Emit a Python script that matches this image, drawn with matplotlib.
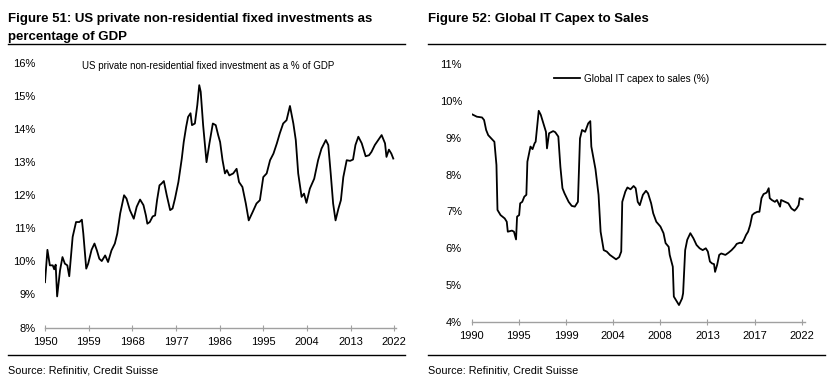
import matplotlib
matplotlib.use("Agg")
import matplotlib.pyplot as plt
from matplotlib.lines import Line2D

# --- data ---
us_years = [1950.0, 1950.5, 1951.0, 1951.6, 1951.9, 1952.2, 1952.5, 1953.1, 1953.6, 1954.1,
            1954.6, 1955.0, 1955.7, 1956.4, 1957.1, 1957.6, 1957.9, 1958.5, 1958.9, 1959.6,
            1960.2, 1960.7, 1961.2, 1961.7, 1962.4, 1963.0, 1963.7, 1964.4, 1964.9, 1965.5,
            1966.3, 1966.8, 1967.5, 1968.3, 1968.9, 1969.6, 1970.3, 1970.8, 1971.1, 1971.6,
            1972.2, 1972.7, 1973.1, 1973.6, 1974.0, 1974.5, 1975.1, 1975.8, 1976.3, 1976.8,
            1977.5, 1978.2, 1978.6, 1979.1, 1979.5, 1980.0, 1980.3, 1980.9, 1981.4, 1981.8,
            1982.1, 1982.6, 1983.3, 1983.9, 1984.6, 1985.2, 1985.7, 1986.1, 1986.6, 1987.1,
            1987.5, 1988.0, 1988.8, 1989.5, 1990.0, 1990.7, 1991.4, 1992.0, 1992.8, 1993.6,
            1994.3, 1995.0, 1995.7, 1996.4, 1997.1, 1997.8, 1998.4, 1999.1, 1999.8, 2000.5,
            2001.2, 2001.7, 2002.2, 2002.9, 2003.4, 2003.9, 2004.6, 2005.5, 2006.3, 2007.0,
            2007.9, 2008.4, 2008.9, 2009.4, 2009.9, 2010.5, 2011.0, 2011.5, 2012.2, 2012.9,
            2013.5, 2014.0, 2014.6, 2015.3, 2016.1, 2016.8, 2017.3, 2018.0, 2018.7, 2019.4,
            2020.1, 2020.4, 2020.9, 2021.4, 2021.8]
us_invest = [9.37, 10.35, 9.88, 9.88, 9.76, 9.90, 8.94, 9.73, 10.13, 9.93,
             9.88, 9.55, 10.74, 11.19, 11.19, 11.26, 10.84, 9.78, 9.93, 10.35,
             10.54, 10.33, 10.08, 10.01, 10.18, 9.98, 10.33, 10.54, 10.84, 11.45,
             12.00, 11.90, 11.55, 11.29, 11.65, 11.87, 11.70, 11.39, 11.14, 11.19,
             11.36, 11.39, 11.85, 12.30, 12.35, 12.43, 12.00, 11.55, 11.60, 11.90,
             12.40, 13.11, 13.61, 14.07, 14.37, 14.48, 14.12, 14.17, 14.73, 15.33,
             15.13, 14.12, 13.00, 13.57, 14.17, 14.12, 13.82, 13.61, 13.06, 12.66,
             12.76, 12.60, 12.66, 12.80, 12.40, 12.25, 11.75, 11.24, 11.49, 11.75,
             11.85, 12.55, 12.66, 13.06, 13.26, 13.57, 13.87, 14.17, 14.27, 14.70,
             14.17, 13.67, 12.66, 11.95, 12.05, 11.77, 12.20, 12.50, 13.06, 13.41,
             13.67, 13.52, 12.66, 11.75, 11.24, 11.60, 11.85, 12.55, 13.06, 13.04,
             13.08, 13.52, 13.77, 13.57, 13.18, 13.21, 13.31, 13.52, 13.67, 13.82,
             13.57, 13.16, 13.38, 13.26, 13.11]

it_years = [1990.0, 1990.5, 1991.0, 1991.2, 1991.4, 1991.6, 1991.9, 1992.2, 1992.4, 1992.5,
            1992.8, 1993.2, 1993.4, 1993.5, 1993.9, 1994.1, 1994.3, 1994.4, 1994.6, 1994.7,
            1994.9, 1995.1, 1995.3, 1995.4, 1995.7, 1995.9, 1996.1, 1996.2, 1996.5, 1996.7,
            1997.0, 1997.2, 1997.3, 1997.5, 1997.9, 1998.1, 1998.4, 1998.6, 1998.8, 1999.0,
            1999.4, 1999.7, 2000.0, 2000.3, 2000.5, 2000.7, 2001.0, 2001.3, 2001.5, 2001.6,
            2002.0, 2002.3, 2002.5, 2002.8, 2003.1, 2003.4, 2003.7, 2004.0, 2004.3, 2004.5,
            2004.6, 2004.9, 2005.1, 2005.4, 2005.7, 2005.9, 2006.1, 2006.3, 2006.6, 2006.9,
            2007.1, 2007.4, 2007.6, 2007.9, 2008.3, 2008.6, 2008.8, 2009.1, 2009.2, 2009.5,
            2009.6, 2009.9, 2010.1, 2010.4, 2010.5, 2010.7, 2010.9, 2011.2, 2011.5, 2011.8,
            2012.1, 2012.4, 2012.7, 2012.9, 2013.1, 2013.3, 2013.5, 2013.6, 2013.8, 2014.0,
            2014.2, 2014.6, 2014.9, 2015.2, 2015.5, 2015.7, 2016.0, 2016.2, 2016.4, 2016.6,
            2016.8, 2017.0, 2017.2, 2017.4, 2017.7, 2017.9, 2018.1, 2018.3, 2018.6, 2018.8,
            2018.9, 2019.1, 2019.4, 2019.6, 2019.9, 2020.0, 2020.4, 2020.7, 2021.0, 2021.3,
            2021.5, 2021.7, 2021.8, 2022.1]
it_capex = [9.64, 9.57, 9.55, 9.48, 9.21, 9.07, 8.98, 8.89, 8.26, 7.04,
            6.90, 6.81, 6.72, 6.45, 6.48, 6.45, 6.24, 6.86, 6.90, 7.22,
            7.26, 7.40, 7.45, 8.35, 8.76, 8.69, 8.85, 8.89, 9.73, 9.62,
            9.35, 9.16, 8.71, 9.12, 9.18, 9.15, 9.03, 8.21, 7.63, 7.49,
            7.26, 7.15, 7.13, 7.26, 8.98, 9.21, 9.16, 9.39, 9.45, 8.76,
            8.15, 7.45, 6.45, 5.95, 5.91, 5.82, 5.76, 5.70, 5.76, 5.91,
            7.26, 7.54, 7.65, 7.60, 7.69, 7.63, 7.26, 7.17, 7.45, 7.56,
            7.49, 7.22, 6.95, 6.72, 6.59, 6.41, 6.14, 6.04, 5.82, 5.50,
            4.69, 4.55, 4.46, 4.64, 4.78, 5.95, 6.23, 6.41, 6.27, 6.09,
            6.00, 5.95, 6.00, 5.91, 5.64, 5.59, 5.57, 5.36, 5.55, 5.82,
            5.86, 5.82, 5.88, 5.95, 6.04, 6.12, 6.15, 6.14, 6.23, 6.36,
            6.45, 6.63, 6.90, 6.95, 6.99, 6.99, 7.36, 7.47, 7.51, 7.63,
            7.36, 7.31, 7.26, 7.31, 7.13, 7.31, 7.26, 7.22, 7.08, 7.02,
            7.08, 7.17, 7.36, 7.33]

us_xticks = [1950, 1959, 1968, 1977, 1986, 1995, 2004, 2013, 2022]
us_yticks = [8, 9, 10, 11, 12, 13, 14, 15, 16]
it_xtick_labels = ["1990", "1995", "1999", "2004", "2008", "2013", "2017", "2022"]
it_yticks = [4, 5, 6, 7, 8, 9, 10, 11]

W, H = 830, 383
plt.rcParams["font.family"] = ["Liberation Sans", "DejaVu Sans"]


def fx(x):
    return x / W


def fy(y):
    return 1 - y / H


def hline(fig, x0, x1, y, lw=1.0):
    fig.add_artist(Line2D([fx(x0), fx(x1)], [fy(y), fy(y)], transform=fig.transFigure,
                          color="black", linewidth=lw))


def style_axis(ax):
    for s in ["top", "right", "left"]:
        ax.spines[s].set_visible(False)
    ax.spines["bottom"].set_color("#a0a0a0")
    ax.spines["bottom"].set_linewidth(1.0)
    ax.tick_params(axis="x", direction="inout", length=5, color="#a0a0a0",
                   labelsize=8, pad=4)
    ax.tick_params(axis="y", length=0, labelsize=8, pad=7)


fig = plt.figure(figsize=(W / 100, H / 100), dpi=100)

# ---------- left panel ----------
ax1 = fig.add_axes([fx(45), fy(327.5), fx(395.7) - fx(45), fy(63) - fy(327.5)])
ax1.plot(us_years, us_invest, color="black", linewidth=1.3)
ax1.set_xlim(1950, 2022.3)
ax1.set_ylim(8, 16)
ax1.set_xticks(us_xticks)
ax1.set_xticklabels([str(y) for y in us_xticks])
ax1.set_yticks(us_yticks)
ax1.set_yticklabels([f"{v}%" for v in us_yticks])
style_axis(ax1)
fig.text(fx(82), fy(66), "US private non-residential fixed investment as a % of GDP",
         fontsize=7, va="center", ha="left")

fig.text(fx(8), fy(19), "Figure 51: US private non-residential fixed investments as",
         fontsize=9.5, weight="bold", va="center", ha="left")
fig.text(fx(8), fy(37), "percentage of GDP", fontsize=9.5, weight="bold",
         va="center", ha="left")
hline(fig, 8, 405, 43.5)
hline(fig, 8, 405, 355)
fig.text(fx(8), fy(370.5), "Source: Refinitiv, Credit Suisse", fontsize=7.8,
         va="center", ha="left")

# ---------- right panel ----------
ax2 = fig.add_axes([fx(471.7), fy(322), fx(804.8) - fx(471.7), fy(64) - fy(322)])
ax2.plot(it_years, it_capex, color="black", linewidth=1.3,
         label="Global IT capex to sales (%)")
ax2.set_xlim(1990, 2022.3)
ax2.set_ylim(4, 11)
ax2.set_xticks([1990 + k * 32 / 7 for k in range(8)])
ax2.set_xticklabels(it_xtick_labels)
ax2.set_yticks(it_yticks)
ax2.set_yticklabels([f"{v}%" for v in it_yticks])
style_axis(ax2)
ax2.legend(loc="center left", bbox_to_anchor=(fx(554), fy(78.7)),
           bbox_transform=fig.transFigure, frameon=False, borderaxespad=0,
           borderpad=0, handlelength=2.6, handletextpad=0.35, fontsize=7.2)

fig.text(fx(428), fy(19), "Figure 52: Global IT Capex to Sales", fontsize=9.5,
         weight="bold", va="center", ha="left")
hline(fig, 428, 825, 43.5)
hline(fig, 428, 825, 355)
fig.text(fx(428), fy(370.5), "Source: Refinitiv, Credit Suisse", fontsize=7.8,
         va="center", ha="left")

fig.savefig("out.png", dpi=100)
